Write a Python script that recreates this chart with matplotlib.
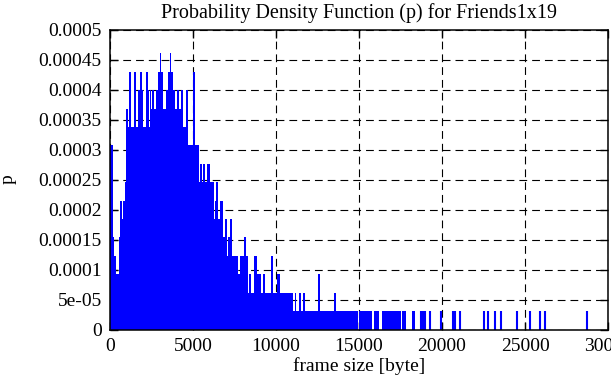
import matplotlib
matplotlib.use('Agg')
import matplotlib.pyplot as plt
import numpy as np

n_frames = 32600          # p = count / n_frames
bin_bytes = 60.3          # dense part: consecutive bins starting at 0 byte

dense_counts = [
    10, 10, 10, 5, 4, 4, 3, 3, 3, 5,
    7, 7, 6, 7, 7, 8, 12, 12, 11, 14,
    14, 11, 11, 11, 14, 14, 11, 11, 13, 13,
    14, 14, 13, 11, 11, 11, 14, 14, 13, 11,
    13, 12, 13, 13, 12, 12, 13, 13, 14, 14,
    15, 14, 14, 12, 12, 12, 13, 13, 14, 14,
    15, 14, 14, 13, 13, 12, 12, 13, 13, 12,
    12, 13, 13, 11, 11, 11, 13, 13, 10, 10,
    10, 10, 10, 14, 14, 10, 10, 10, 10, 8,
    9, 9, 8, 9, 9, 8, 8, 9, 9, 9,
    8, 8, 8, 8, 6, 7, 8, 8, 6, 6,
    7, 7, 7, 5, 5, 6, 6, 4, 5, 5,
    6, 6, 4, 4, 4, 4, 4, 4, 3, 3,
    4, 4, 4, 4, 5, 5, 4, 4, 2, 3,
    3, 2, 2, 2, 4, 4, 4, 3, 3, 3,
    3, 2, 2, 3, 3, 2, 2, 2, 2, 2,
    2, 4, 4, 2, 2, 2, 2, 3, 3, 3,
    2, 2, 2, 2, 2, 2, 2, 2, 2, 2,
    2, 2, 2, 1, 1, 2, 1, 1, 1, 2,
    2, 1, 1, 2, 2, 1, 1, 1, 1, 1,
    1, 1, 1, 1, 1, 1, 1, 1, 3, 3,
    1, 1, 1, 1, 1, 1, 1, 1, 1, 1,
    1, 1, 1, 1, 2, 2, 1, 1, 1, 1,
    1, 1, 1, 1, 1, 1, 1, 1, 1, 1,
    1, 1, 1, 1, 1, 1, 1, 1, 0, 1,
    1, 1, 1, 1, 1, 1, 1, 1, 1, 1,
    1, 1, 0, 0, 1, 1, 1, 1, 1, 0,
    0, 0, 1, 1, 1, 1, 1, 1, 1, 1,
    1, 1, 1, 1, 1, 1, 1, 1, 1, 1,
    1, 0, 1, 1, 1, 1, 0, 0, 0, 0,
    0, 0, 1, 1, 1, 0,
]

# isolated large frames in the tail (bytes)
tail_sizes = [18750, 18870, 18960, 19290, 19960, 20650, 20800, 21100,
              22550, 22790, 23210, 23570, 24510, 25300, 25930, 26200, 28760]
tail_counts = [1, 1, 1, 1, 1, 1, 1, 1, 1, 1, 1, 1, 1, 1, 1, 1, 1]

x_ticks = [0, 5000, 10000, 15000, 20000, 25000, 30000]
y_ticks = [0, 5e-05, 0.0001, 0.00015, 0.0002, 0.00025, 0.0003,
           0.00035, 0.0004, 0.00045, 0.0005]
y_labels = ['0', '5e-05', '0.0001', '0.00015', '0.0002', '0.00025', '0.0003',
            '0.00035', '0.0004', '0.00045', '0.0005']

plt.rcParams['font.family'] = ['Liberation Serif', 'DejaVu Serif']
plt.rcParams['font.size'] = 14

fig = plt.figure(figsize=(6.11, 3.85), dpi=100)
ax = fig.add_axes([110 / 611, 55.5 / 385, 498 / 611, 300 / 385])

edges = np.arange(len(dense_counts) + 1) * bin_bytes
ax.stairs(np.array(dense_counts) / n_frames, edges, fill=True,
          color='#0000ff', lw=0, zorder=3)
ax.vlines(tail_sizes, 0, np.array(tail_counts) / n_frames,
          color='#0000ff', lw=1.5, zorder=3)

ax.set_xlim(0, 30000)
ax.set_ylim(0, 0.0005)
ax.set_xticks(x_ticks)
ax.set_xticklabels([str(t) for t in x_ticks])
ax.set_yticks(y_ticks)
ax.set_yticklabels(y_labels)
ax.tick_params(direction='in', length=5.5, width=1, top=True, right=True, pad=6)
ax.grid(True, color='black', lw=0.8, linestyle=(0, (7, 4.5)), zorder=1)
for s in ax.spines.values():
    s.set_linewidth(1.1)
    s.set_zorder(4)

ax.set_title('Probability Density Function (p) for Friends1x19', fontsize=14.5, pad=8)
ax.set_xlabel('frame size [byte]', labelpad=2)
ax.set_ylabel('p', labelpad=16)

fig.savefig('out.png', dpi=100)
